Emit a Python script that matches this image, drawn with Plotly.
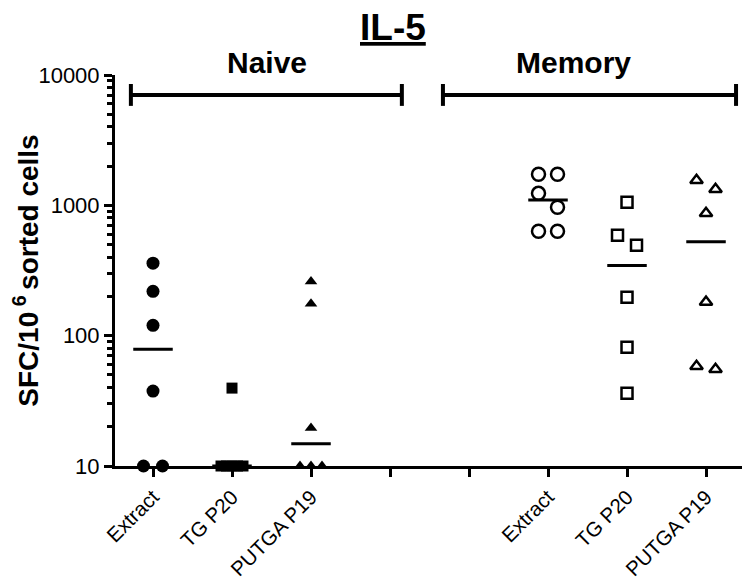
import numpy as np
import plotly.graph_objects as go

# values (SFC per 10^6 sorted cells)
tick_labels = ["Extract", "TG P20", "PUTGA P19", "", "", "Extract", "TG P20", "PUTGA P19"]
y_tick_vals = [10, 100, 1000, 10000]
y_tick_text = ["10", "100", "1000", "10000"]

naive_extract = [360, 219, 120, 37.6, 10, 10]
naive_tg_p20 = [39.6, 10, 10, 10, 10, 10]
naive_putga_p19 = [260, 176, 19.6, 10, 10, 10]
memory_extract = [1730, 1730, 1236, 966, 632, 632]
memory_tg_p20 = [1055, 589, 494, 197, 81.6, 36.2]
memory_putga_p19 = [1556, 1327, 869, 181, 58.3, 55.3]

groups = [
    (1, naive_extract, "circle"),
    (2, naive_tg_p20, "square"),
    (3, naive_putga_p19, "triangle-up"),
    (6, memory_extract, "circle-open"),
    (7, memory_tg_p20, "square-open"),
    (8, memory_putga_p19, "triangle-up-open"),
]

PX_PER_UNIT = 79.0
PX_PER_DECADE = 130.5


def spread(vals):
    # column-scatter: points that would overlap get pushed sideways
    order = np.argsort(vals)[::-1]
    ys = [np.log10(vals[i]) * PX_PER_DECADE for i in order]
    clusters, cur = [], [order[0]]
    for k in range(1, len(order)):
        if ys[k - 1] - ys[k] < 15:
            cur.append(order[k])
        else:
            clusters.append(cur)
            cur = [order[k]]
    clusters.append(cur)
    offs = np.zeros(len(vals))
    for c in clusters:
        n = len(c)
        if n == 1:
            continue
        step = min(19.0, 22.0 / (n - 1))
        for j, idx in enumerate(c):
            offs[idx] = (j - (n - 1) / 2) * step / PX_PER_UNIT
    return offs


fig = go.Figure()

for pos, vals, sym in groups:
    vals = np.array(vals, dtype=float)
    xs = pos + spread(vals)
    is_open = sym.endswith("open")
    fig.add_trace(go.Scatter(
        x=xs, y=vals, mode="markers", cliponaxis=False, showlegend=False,
        marker=dict(symbol=sym, size=13 if "circle" in sym else 11, color="black",
                    line=dict(color="black", width=2.5 if is_open else 0)),
    ))
    med = float(np.median(vals))
    fig.add_trace(go.Scatter(
        x=[pos - 0.25, pos + 0.25], y=[med, med], mode="lines", cliponaxis=False,
        showlegend=False, line=dict(color="black", width=3),
    ))

# group brackets above the plot
for x0, x1 in [(0.72, 4.15), (4.67, 8.38)]:
    fig.add_shape(type="line", xref="x", yref="paper", x0=x0, x1=x1, y0=0.949, y1=0.949,
                  line=dict(color="black", width=4))
    for xe in (x0, x1):
        fig.add_shape(type="line", xref="x", yref="paper", x0=xe, x1=xe, y0=0.921, y1=0.977,
                      line=dict(color="black", width=4))

bold = dict(family="Arial, Liberation Sans, sans-serif", color="black")
fig.add_annotation(x=2.44, y=1.033, xref="x", yref="paper", yanchor="middle",
                   text="<b>Naive</b>", showarrow=False, font=dict(size=30, **bold))
fig.add_annotation(x=6.32, y=1.033, xref="x", yref="paper", yanchor="middle",
                   text="<b>Memory</b>", showarrow=False, font=dict(size=30, **bold))
fig.add_annotation(x=4.04, y=1.122, xref="x", yref="paper", yanchor="middle",
                   text="<b><u>IL-5</u></b>", showarrow=False, font=dict(size=37, **bold))

minor_vals = [m * 10 ** e for e in range(1, 4) for m in range(2, 10)]

# the page body adds 8px, so margins are trimmed to land the axes where the reference has them
fig.update_layout(
    width=750, height=579,
    margin=dict(l=107, r=0, t=67, b=121),
    plot_bgcolor="white", paper_bgcolor="white",
    font=dict(family="Arial, Liberation Sans, sans-serif", size=21, color="black"),
    xaxis=dict(
        range=[0.519, 8.658], tickmode="array", tickvals=list(range(1, 9)), ticktext=tick_labels,
        tickangle=-45, ticks="outside", ticklen=8, tickwidth=3, tickcolor="black",
        tickfont=dict(size=20.5),
        showline=True, linewidth=3, linecolor="black", showgrid=False, zeroline=False,
    ),
    yaxis=dict(
        type="log", range=[1, 4], tickmode="array", tickvals=y_tick_vals, ticktext=y_tick_text,
        ticks="outside", ticklen=8, tickwidth=3, tickcolor="black", tickfont=dict(size=22),
        minor=dict(tickmode="array", tickvals=minor_vals, ticks="outside", ticklen=5,
                   tickwidth=2.5, tickcolor="black", showgrid=False),
        showline=True, linewidth=3, linecolor="black", showgrid=False, zeroline=False,
        title=dict(text="<b>SFC/10<sup> 6 </sup>sorted cells</b>", standoff=4,
                   font=dict(size=28, **bold)),
    ),
)

fig.write_html("out.html")
